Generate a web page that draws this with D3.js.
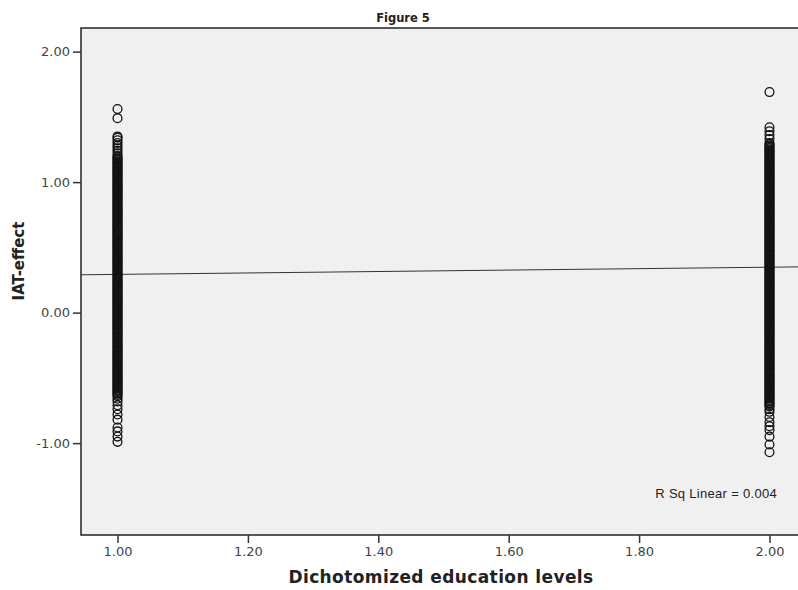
<!DOCTYPE html>
<html>
<head>
<meta charset="utf-8">
<script src="https://cdn.jsdelivr.net/npm/d3@7"></script>
<style>
  body { margin: 0; background: #fff; }
  svg { display: block; }
</style>
</head>
<body>
<div id="chart"></div>
<script>
// Chart values
const xTicks = [1.00, 1.20, 1.40, 1.60, 1.80, 2.00];
const yTicks = [-1.00, 0.00, 1.00, 2.00];

// IAT-effect for education level 1 (outliers, then the dense column)
const level1Values = [
    1.56, 1.49, 1.35, 1.34, 1.32, 1.30, 1.28, 1.26, 1.24, 1.22,
    1.20, 1.19, 1.18, 1.17, 1.16, 1.15, 1.14, 1.13, 1.12, 1.11,
    1.10, 1.09, 1.08, 1.07, 1.06, 1.05, 1.04, 1.03, 1.02, 1.01,
    1.00, 0.99, 0.98, 0.97, 0.96, 0.95, 0.94, 0.93, 0.92, 0.91,
    0.90, 0.89, 0.88, 0.87, 0.86, 0.85, 0.84, 0.83, 0.82, 0.81,
    0.80, 0.79, 0.78, 0.77, 0.76, 0.75, 0.74, 0.73, 0.72, 0.71,
    0.70, 0.69, 0.68, 0.67, 0.66, 0.65, 0.64, 0.63, 0.62, 0.61,
    0.60, 0.59, 0.58, 0.57, 0.56, 0.55, 0.54, 0.53, 0.52, 0.51,
    0.50, 0.49, 0.48, 0.47, 0.46, 0.45, 0.44, 0.43, 0.42, 0.41,
    0.40, 0.39, 0.38, 0.37, 0.36, 0.35, 0.34, 0.33, 0.32, 0.31,
    0.30, 0.29, 0.28, 0.27, 0.26, 0.25, 0.24, 0.23, 0.22, 0.21,
    0.20, 0.19, 0.18, 0.17, 0.16, 0.15, 0.14, 0.13, 0.12, 0.11,
    0.10, 0.09, 0.08, 0.07, 0.06, 0.05, 0.04, 0.03, 0.02, 0.01,
    0.00, -0.01, -0.02, -0.03, -0.04, -0.05, -0.06, -0.07, -0.08, -0.09,
    -0.10, -0.11, -0.12, -0.13, -0.14, -0.15, -0.16, -0.17, -0.18, -0.19,
    -0.20, -0.21, -0.22, -0.23, -0.24, -0.25, -0.26, -0.27, -0.28, -0.29,
    -0.30, -0.31, -0.32, -0.33, -0.34, -0.35, -0.36, -0.37, -0.38, -0.39,
    -0.40, -0.41, -0.42, -0.43, -0.44, -0.45, -0.46, -0.47, -0.48, -0.49,
    -0.50, -0.51, -0.52, -0.53, -0.54, -0.55, -0.56, -0.57, -0.58, -0.59,
    -0.60, -0.61, -0.62, -0.63, -0.64, -0.66, -0.68, -0.71, -0.74, -0.78,
    -0.82, -0.88, -0.91, -0.95, -0.99
];

// IAT-effect for education level 2
const level2Values = [
    1.69, 1.42, 1.39, 1.36, 1.33, 1.30, 1.29, 1.28, 1.27, 1.26,
    1.25, 1.24, 1.23, 1.22, 1.21, 1.20, 1.19, 1.18, 1.17, 1.16,
    1.15, 1.14, 1.13, 1.12, 1.11, 1.10, 1.09, 1.08, 1.07, 1.06,
    1.05, 1.04, 1.03, 1.02, 1.01, 1.00, 0.99, 0.98, 0.97, 0.96,
    0.95, 0.94, 0.93, 0.92, 0.91, 0.90, 0.89, 0.88, 0.87, 0.86,
    0.85, 0.84, 0.83, 0.82, 0.81, 0.80, 0.79, 0.78, 0.77, 0.76,
    0.75, 0.74, 0.73, 0.72, 0.71, 0.70, 0.69, 0.68, 0.67, 0.66,
    0.65, 0.64, 0.63, 0.62, 0.61, 0.60, 0.59, 0.58, 0.57, 0.56,
    0.55, 0.54, 0.53, 0.52, 0.51, 0.50, 0.49, 0.48, 0.47, 0.46,
    0.45, 0.44, 0.43, 0.42, 0.41, 0.40, 0.39, 0.38, 0.37, 0.36,
    0.35, 0.34, 0.33, 0.32, 0.31, 0.30, 0.29, 0.28, 0.27, 0.26,
    0.25, 0.24, 0.23, 0.22, 0.21, 0.20, 0.19, 0.18, 0.17, 0.16,
    0.15, 0.14, 0.13, 0.12, 0.11, 0.10, 0.09, 0.08, 0.07, 0.06,
    0.05, 0.04, 0.03, 0.02, 0.01, 0.00, -0.01, -0.02, -0.03, -0.04,
    -0.05, -0.06, -0.07, -0.08, -0.09, -0.10, -0.11, -0.12, -0.13, -0.14,
    -0.15, -0.16, -0.17, -0.18, -0.19, -0.20, -0.21, -0.22, -0.23, -0.24,
    -0.25, -0.26, -0.27, -0.28, -0.29, -0.30, -0.31, -0.32, -0.33, -0.34,
    -0.35, -0.36, -0.37, -0.38, -0.39, -0.40, -0.41, -0.42, -0.43, -0.44,
    -0.45, -0.46, -0.47, -0.48, -0.49, -0.50, -0.51, -0.52, -0.53, -0.54,
    -0.55, -0.56, -0.57, -0.58, -0.59, -0.60, -0.61, -0.62, -0.63, -0.64,
    -0.65, -0.66, -0.67, -0.68, -0.69, -0.70, -0.71, -0.72, -0.74, -0.76,
    -0.80, -0.84, -0.87, -0.90, -0.95, -1.01, -1.07
];

// Fit line: intercept and slope
const fitIntercept = 0.238;
const fitSlope = 0.055;
const rSqLabel = "R Sq Linear = 0.004";

const width = 798;
const height = 590;
const margin = { top: 28, left: 81, bottom: 55, right: -2 };

const svg = d3.select('#chart').append('svg')
    .attr('width', width)
    .attr('height', height);

const x = d3.scaleLinear()
    .domain([0.944, 2.0468])
    .range([margin.left, width - margin.right]);

const y = d3.scaleLinear()
    .domain([-1.7038, 2.1808])
    .range([height - margin.bottom, margin.top]);

// plot background
svg.append('rect')
    .attr('x', margin.left)
    .attr('y', margin.top)
    .attr('width', x.range()[1] - margin.left)
    .attr('height', y.range()[0] - margin.top)
    .attr('fill', '#f0f0f0')
    .attr('stroke', '#222')
    .attr('stroke-width', 1.5);

// fit line
svg.append('line')
    .attr('x1', x(x.domain()[0]))
    .attr('x2', x(x.domain()[1]))
    .attr('y1', y(fitIntercept + fitSlope * x.domain()[0]))
    .attr('y2', y(fitIntercept + fitSlope * x.domain()[1]))
    .attr('stroke', '#333')
    .attr('stroke-width', 1);

// points
const points = level1Values.map(v => ({ level: 1, value: v }))
    .concat(level2Values.map(v => ({ level: 2, value: v })));

svg.append('g').selectAll('circle')
    .data(points)
    .enter().append('circle')
    .attr('cx', d => x(d.level))
    .attr('cy', d => y(d.value))
    .attr('r', 4.4)
    .attr('fill', 'none')
    .attr('stroke', '#111')
    .attr('stroke-width', 1.3);

// axes
const xAxis = svg.append('g')
    .attr('transform', `translate(0,${y.range()[0]})`)
    .call(d3.axisBottom(x).tickValues(xTicks).tickFormat(d3.format('.2f')).tickSize(8).tickPadding(4));

const yAxis = svg.append('g')
    .attr('transform', `translate(${margin.left},0)`)
    .call(d3.axisLeft(y).tickValues(yTicks).tickFormat(d3.format('.2f')).tickSize(8).tickPadding(3));

[xAxis, yAxis].forEach(ax => {
    ax.select('.domain').remove();
    ax.selectAll('line').attr('stroke', '#333').attr('stroke-width', 1.5);
    ax.selectAll('text')
        .attr('fill', '#444')
        .style('font-family', 'DejaVu Sans, sans-serif')
        .style('font-size', '13px');
});
// plain hyphen for negatives, as in the reference
yAxis.selectAll('text').text(d => d3.format('.2f')(d).replace('−', '-'));

// titles
svg.append('text')
    .attr('x', 403)
    .attr('y', 22)
    .attr('text-anchor', 'middle')
    .style('font-family', 'DejaVu Sans, sans-serif')
    .style('font-weight', 'bold')
    .style('font-size', '11.5px')
    .attr('fill', '#222')
    .text('Figure 5');

svg.append('text')
    .attr('x', 441)
    .attr('y', 583)
    .attr('text-anchor', 'middle')
    .style('font-family', 'DejaVu Sans, sans-serif')
    .style('font-weight', 'bold')
    .style('font-size', '17px')
    .style('letter-spacing', '0.4px')
    .attr('fill', '#222')
    .text('Dichotomized education levels');

svg.append('text')
    .attr('transform', 'translate(24,261) rotate(-90)')
    .attr('text-anchor', 'middle')
    .style('font-family', 'DejaVu Sans, sans-serif')
    .style('font-weight', 'bold')
    .style('font-size', '15px')
    .attr('fill', '#222')
    .text('IAT-effect');

svg.append('text')
    .attr('x', 777)
    .attr('y', 498)
    .attr('text-anchor', 'end')
    .style('font-family', 'Liberation Sans, Arial, sans-serif')
    .style('font-size', '13px')
    .style('letter-spacing', '0.3px')
    .attr('fill', '#222')
    .text(rSqLabel);
</script>
</body>
</html>
